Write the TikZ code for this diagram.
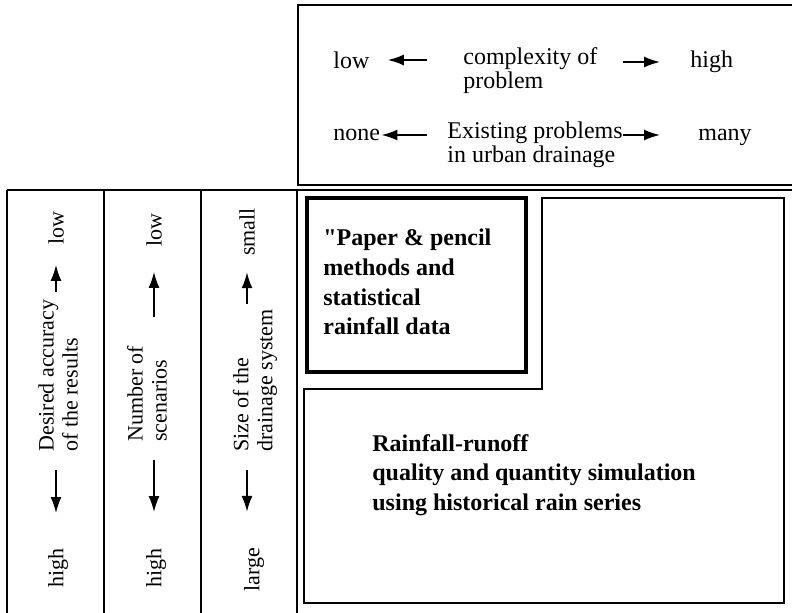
\documentclass[tikz,border=0pt]{standalone}
\usepackage{fontspec}
\setmainfont{Liberation Serif}
\usetikzlibrary{arrows.meta}
\newcommand{\straightquote}{{\addfontfeatures{Ligatures=TeXOff}"}}
\tikzset{
  txt/.style={inner sep=0pt,align=left,font=\fontsize{12}{10.5}\selectfont},
  vtxt/.style={inner sep=0pt,align=left,rotate=90,font=\fontsize{11}{12}\selectfont},
  btxt/.style={inner sep=0pt,align=left,font=\fontsize{12}{14.8}\selectfont\bfseries},
  arr/.style={-{Latex[length=8pt,width=5.5pt]},line width=0.85pt},
  frame/.style={line width=0.75pt}
}
\begin{document}
\begin{tikzpicture}[x=0.5pt,y=-0.5pt]
\useasboundingbox (0,0) rectangle (792,612);
% frames
\draw[frame] (796,5) -- (298,5) -- (298,185) -- (796,185);
\draw[frame] (7,190) -- (796,190);
\foreach \x in {7,104,201,297} \draw[frame] (\x,190) -- (\x,616);
\draw[line width=2pt] (307,198) rectangle (526,372);
\draw[frame] (542,198) -- (784,198) -- (784,603) -- (304,603) -- (304,389) -- (542,389) -- cycle;
% top box
\node[txt,anchor=west] (low1) at (333,60) {low};
\node[txt,anchor=west] (cplx) at (463,71) {complexity of\\problem};
\node[txt,anchor=west] (high1) at (690,62) {high};
\node[txt,anchor=west] (none1) at (333,135) {none};
\node[txt,anchor=west] (exist) at (447,145) {Existing problems\\in urban drainage};
\node[txt,anchor=west] (many1) at (698,137) {many};
\draw[arr,shorten <=18pt,shorten >=9pt] (cplx.west |- low1.east) -- (low1.east);
\draw[arr,shorten <=12.5pt,shorten >=15pt] (cplx.east |- high1.west) -- (high1.west);
\draw[arr,shorten <=10pt,shorten >=0.5pt] (exist.west |- none1.east) -- (none1.east);
\draw[arr,shorten >=19pt] (exist.east |- none1.east) -- (many1.west |- none1.east);
% left columns
\node[vtxt,anchor=west] (accA) at (58,452) {Desired accuracy\\of the results};
\node[vtxt] (lowA) at (56,228) {low};
\node[vtxt] (highA) at (58,568) {high};
\draw[arr,shorten <=3.5pt,shorten >=10pt] (accA.east -| lowA) -- (lowA.west);
\draw[arr,shorten <=9pt,shorten >=17.5pt] (accA.west -| lowA) -- (highA.east -| lowA);
\node[vtxt,anchor=west] (numB) at (147,442) {Number of\\scenarios};
\node[vtxt] (lowB) at (154,230) {low};
\node[vtxt] (highB) at (156,568) {high};
\draw[arr,shorten <=14pt,shorten >=12.5pt] (numB.east -| lowB) -- (lowB.west);
\draw[arr,shorten <=9pt,shorten >=18pt] (numB.west -| lowB) -- (highB.east -| lowB);
\node[vtxt,anchor=west] (sizeC) at (255,452) {Size of the\\drainage system};
\node[vtxt] (smallC) at (247,232) {small};
\node[vtxt] (largeC) at (254,570) {large};
\draw[arr,shorten <=2.5pt,shorten >=8pt] (sizeC.east -| smallC) -- (smallC.west);
\draw[arr,shorten <=9pt,shorten >=18pt] (sizeC.west -| smallC) -- (largeC.east -| smallC);
% methods
\node[btxt,anchor=west] (paper) at (323,282) {\straightquote Paper \& pencil\\methods and\\statistical\\rainfall data};
\node[btxt,anchor=west] (sim) at (372,475) {Rainfall-runoff\\quality and quantity simulation\\using historical rain series};
\end{tikzpicture}
\end{document}
